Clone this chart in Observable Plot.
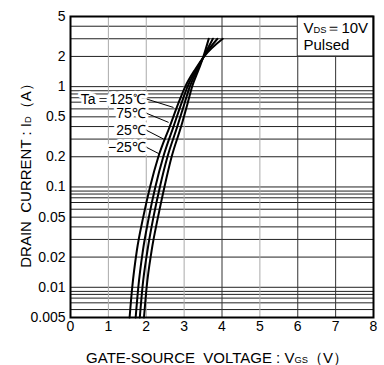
<!DOCTYPE html>
<html><head><meta charset="utf-8">
<script src="https://cdn.jsdelivr.net/npm/d3@7"></script>
<script src="https://cdn.jsdelivr.net/npm/@observablehq/plot@0.6"></script>
<style>body{margin:0;background:#fff} svg{display:block}</style>
</head><body><div id="chart"></div>
<script>
// Drain current levels (A) and gate-source voltage (V) read for each temperature
const currentLevels = [0.005, 0.01, 0.023, 0.05, 0.1, 0.2, 0.4, 0.7, 1.0, 1.5, 2.0, 3.0];
const vgs125 = [1.56, 1.63, 1.75, 1.92, 2.10, 2.32, 2.62, 2.86, 3.03, 3.30, 3.53, 4.02];
const vgs75  = [1.72, 1.79, 1.91, 2.07, 2.24, 2.45, 2.72, 2.94, 3.09, 3.33, 3.52, 3.88];
const vgs25  = [1.83, 1.90, 2.03, 2.19, 2.36, 2.56, 2.82, 3.02, 3.15, 3.36, 3.52, 3.76];
const vgsM25 = [1.94, 2.01, 2.14, 2.31, 2.48, 2.67, 2.92, 3.10, 3.21, 3.39, 3.51, 3.65];
const temps = ["125", "75", "25", "-25"];
const seriesV = [vgs125, vgs75, vgs25, vgsM25];

// curve labels and leader lines
const labelText = ["Ta＝125℃", "75℃", "25℃", "−25℃"];
const labelI = [0.75, 0.54, 0.365, 0.247];
const leaderEndV = [2.72, 2.59, 2.46, 2.33];
const leaderEndI = [0.62, 0.44, 0.30, 0.215];

// axes
const xTicks = [0, 1, 2, 3, 4, 5, 6, 7, 8];
const yTicks = [5, 2, 1, 0.5, 0.2, 0.1, 0.05, 0.02, 0.01, 0.005];
const yTickLabels = ["5", "2", "1", "0.5", "0.2", "0.1", "0.05", "0.02", "0.01", "0.005"];
const hGrid = [5, 4, 3, 2,
  1, 0.91, 0.845, 0.775, 0.7, 0.6, 0.5, 0.4, 0.3, 0.2,
  0.1, 0.091, 0.085, 0.078, 0.07, 0.06, 0.05, 0.04, 0.03, 0.02,
  0.01, 0.0091, 0.0085, 0.0078, 0.007, 0.006];
const vGridLight = [1, 2, 3, 5];
const vGridDark = [4, 6, 7];
const legendBox = [{x1: 6, x2: 8, y1: 2, y2: 5}];

const xLabel = "GATE-SOURCE  VOLTAGE : VGS（V）";
const yLabel = "DRAIN  CURRENT : ID（A）";
const condLine1 = "VDS＝10V";
const condLine2 = "Pulsed";

const curveData = [];
temps.forEach((t, k) => currentLevels.forEach((i, j) => curveData.push({t, v: seriesV[k][j], i})));
const labels = labelText.map((text, k) => ({text, i: labelI[k], v2: leaderEndV[k], i2: leaderEndI[k]}));
const yTickData = yTicks.map((y, k) => ({y, label: yTickLabels[k]}));

const font = "'Liberation Sans', Arial, Helvetica, sans-serif";
const chart = Plot.plot({
  width: 384, height: 365,
  marginLeft: 70, marginRight: 11, marginTop: 16, marginBottom: 48,
  x: {domain: [0, 8]},
  y: {type: "log", domain: [0.005, 5], axis: null},
  style: {fontFamily: font, background: "white", color: "black"},
  marks: [
    Plot.ruleY(hGrid, {stroke: "#222", strokeWidth: 1}),
    Plot.ruleX(vGridLight, {stroke: "#aaa", strokeWidth: 1}),
    Plot.ruleX(vGridDark, {stroke: "#333", strokeWidth: 1}),
    Plot.rect(legendBox, {x1: "x1", x2: "x2", y1: "y1", y2: "y2", fill: "white", stroke: "#333", strokeWidth: 1}),
    Plot.line(curveData, {x: "v", y: "i", z: "t", stroke: "black", strokeWidth: 2, curve: "monotone-x"}),
    Plot.text(labels, {x: 1.99, y: "i", text: "text", textAnchor: "end", fontSize: 14, fill: "black",
      stroke: "white", strokeWidth: 6, paintOrder: "stroke"}),
    Plot.link(labels, {x1: 2.02, y1: "i", x2: "v2", y2: "i2", stroke: "black", strokeWidth: 1}),
    Plot.text([condLine1], {frameAnchor: "top-right", text: d => d, textAnchor: "start", lineAnchor: "middle",
      dx: -70, dy: 12, fontSize: 15, fill: "black"}),
    Plot.text([condLine2], {frameAnchor: "top-right", text: d => d, textAnchor: "start", lineAnchor: "middle",
      dx: -70, dy: 29, fontSize: 15, fill: "black"}),
    Plot.frame({stroke: "black", strokeWidth: 2}),
    Plot.axisX({ticks: xTicks, tickSize: 0, tickPadding: 4, fontSize: 14, label: null, tickFormat: d => String(d)}),
    Plot.text(yTickData, {frameAnchor: "left", y: "y", text: "label", textAnchor: "end", lineAnchor: "middle",
      dx: -5, fontSize: 14, fill: "black"}),
    Plot.text([xLabel], {frameAnchor: "bottom", text: d => d, textAnchor: "middle", dx: -5, dy: 41,
      lineAnchor: "middle", fontSize: 15, fill: "black"}),
    Plot.text([yLabel], {frameAnchor: "left", text: d => d, textAnchor: "middle", rotate: -90, dx: -44, dy: 5,
      lineAnchor: "middle", fontSize: 15, fill: "black"})
  ]
});
document.getElementById("chart").append(chart);

// small subscript letters on the baseline
const svg = d3.select(chart);
function withSub(plain, parts) {
  svg.selectAll("text").filter(function() { return this.textContent === plain; }).each(function() {
    const t = d3.select(this);
    t.text(null);
    for (const [s, small] of parts) t.append("tspan").attr("font-size", small ? "0.62em" : null).text(s);
  });
}
withSub(xLabel, [["GATE-SOURCE  VOLTAGE : V", false], ["GS", true], ["（V）", false]]);
withSub(yLabel, [["DRAIN  CURRENT : I", false], ["D", true], ["（A）", false]]);
withSub(condLine1, [["V", false], ["DS", true], ["＝10V", false]]);
</script>
</body></html>
